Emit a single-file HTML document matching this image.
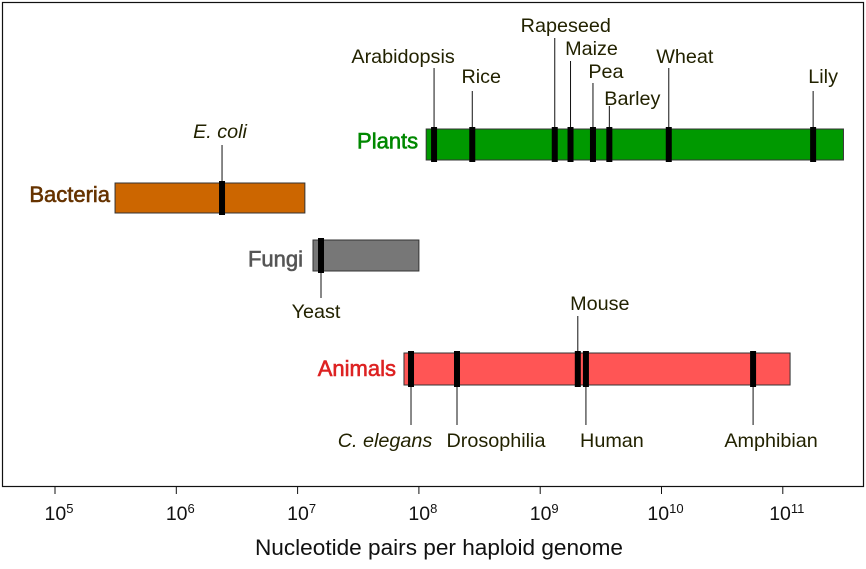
<!DOCTYPE html>
<html><head><meta charset="utf-8"><style>
body{margin:0;background:#fff;}
svg{display:block;font-family:"Liberation Sans",sans-serif;}
.lbl{font-size:19.8px;fill:#222200;}
.cat{font-size:22px;stroke-width:0.6;}
</style></head><body>
<svg id="chart" width="866" height="569">
<rect x="2.5" y="2.5" width="861" height="484" fill="#fff" stroke="#111" stroke-width="1.2"/>
<g id="axis"></g>
<g id="bars"></g>
<text x="439" y="555" text-anchor="middle" font-size="22.6" fill="#111">Nucleotide pairs per haploid genome</text>
</svg>
<script>
const tickExps=[5,6,7,8,9,10,11];
const groups=['Bacteria','Fungi','Plants','Animals'];
const groupMin=[5.495,7.127,8.06,7.877];
const groupMax=[7.06,8.0,11.5,11.06];
const groupColors=['#cc6600','#777777','#009900','#ff5555'];
const groupTextColors=['#663300','#555555','#008800','#dd2222'];
const markerNames=['E. coli','Yeast','Arabidopsis','Rice','Rapeseed','Maize','Pea','Barley','Wheat','Lily','C. elegans','Drosophilia','Mouse','Human','Amphibian'];
const markerGroup=[0,1,2,2,2,2,2,2,2,2,3,3,3,3,3];
const markerLog=[6.377,7.193,8.125,8.44,9.12,9.25,9.435,9.57,10.06,11.25,7.935,8.314,9.31,9.377,10.755];

const NS='http://www.w3.org/2000/svg';
const X=v=>55+(v-5)*121.3;
const rowTop=[183,240,129,353], rowH=[30,31,31,32];
const catDy=[4,11,4,7];
const catDx=[-5,-10,-8,-8];
const labelY=[138,318,63,83,32,55,78,105,63,83,447,447,310,447,447];
const labelDx=[-2,-5,-31,9,11,21,13,23,16,10,-26,39,22,26,18];
const leaderEnd=[145,298,68,91,38,61,83,106,68,91,425,425,316,425,425];
function el(t,a,p){const e=document.createElementNS(NS,t);for(const k in a)e.setAttribute(k,a[k]);p.appendChild(e);return e;}
const ax=document.getElementById('axis');
tickExps.forEach(e=>{
  const x=X(e);
  const t=el('line',{x1:x,x2:x,y1:487,y2:494,stroke:'#111'},ax);
  
  
  const tx=el('text',{x:x+4,y:520,'text-anchor':'middle','font-size':19.5,fill:'#111'},ax);
  
  
  tx.textContent='10';
  const s=el('tspan',{'font-size':13,dy:-7},tx);s.textContent=e;
});
const bg=document.getElementById('bars');
groups.forEach((g,i)=>{
  const r=el('rect',{x:X(groupMin[i]),y:rowTop[i],width:X(groupMax[i])-X(groupMin[i]),height:rowH[i],fill:groupColors[i],stroke:'#333',"stroke-width":1},bg);
  
  
  const t=el('text',{x:X(groupMin[i])+catDx[i],y:rowTop[i]+rowH[i]/2+catDy[i],'text-anchor':'end',class:'cat',fill:groupTextColors[i],stroke:groupTextColors[i]},bg);
  
  
  t.textContent=g;
});
markerNames.forEach((n,i)=>{
  const g=markerGroup[i],x=X(markerLog[i]);
  const top=rowTop[g],bot=rowTop[g]+rowH[g];
  const above=leaderEnd[i]<top;
  const l=el('line',{x1:x,x2:x,y1:above?leaderEnd[i]:bot,y2:above?top:leaderEnd[i],stroke:'#111','stroke-width':1},bg);
  
  
  const m=el('rect',{x:x-3,y:top-2,width:6,height:rowH[g]+4,fill:'#000'},bg);
  
  
  const t=el('text',{x:x+labelDx[i],y:labelY[i],'text-anchor':'middle',class:'lbl'},bg);
  if(n==='E. coli'||n==='C. elegans')t.setAttribute('font-style','italic');
  
  
  t.textContent=n;
});
</script>
</body></html>
